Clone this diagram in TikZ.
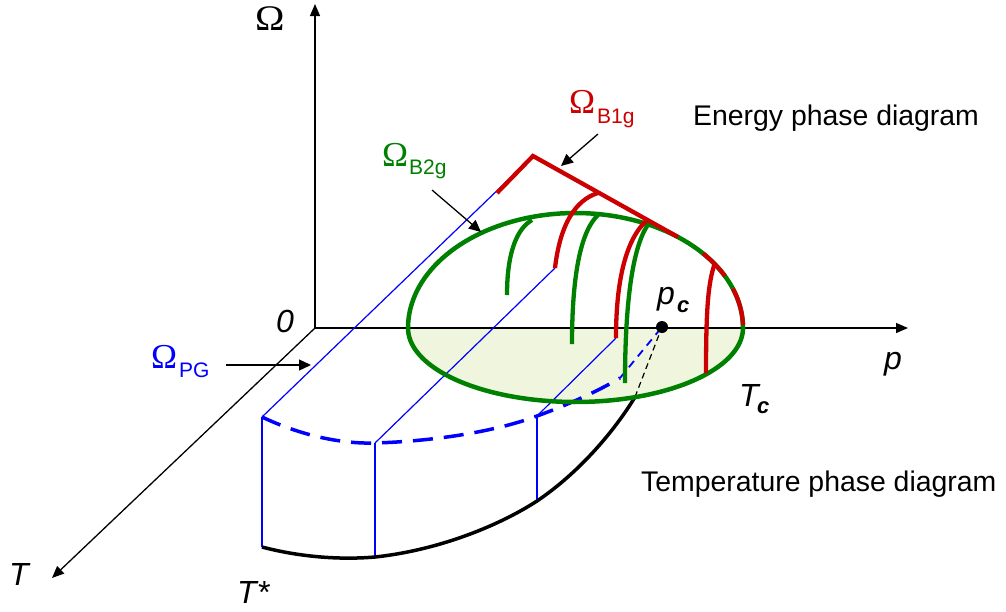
\documentclass[tikz,border=0pt]{standalone}
\usepackage{fontspec}
\setmainfont{Liberation Sans}
\newfontfamily\omegafont{Liberation Serif}
\usepackage{graphicx}
\usetikzlibrary{arrows.meta}
\definecolor{myred}{RGB}{204,0,0}
\definecolor{mygreen}{RGB}{0,128,0}
\definecolor{myblue}{RGB}{0,0,255}
\definecolor{myfill}{RGB}{240,246,222}
\begin{document}
\begin{tikzpicture}[x=1pt,y=-1pt,
  axis/.style={line width=1.3pt,-{Triangle[length=12pt,width=10pt]}},
  lblarrow/.style={line width=1.3pt,-{Triangle[length=12pt,width=11pt]}},
  thinblue/.style={myblue,line width=1.2pt},
  thickred/.style={myred,line width=4.3pt},
  thickgreen/.style={mygreen,line width=4.3pt},
  lbl/.style={inner sep=0pt,anchor=base west},
  ital/.style={lbl,font=\fontsize{32}{32}\selectfont\itshape},
  sub/.style={lbl,font=\fontsize{21}{21}\selectfont},
  omg/.style={lbl,font=\omegafont\fontsize{35}{35}\selectfont},
  ]
\useasboundingbox (0,0) rectangle (1006,611);

% lower (temperature) half of the dome, filled
\fill[myfill] plot[domain=180:360,samples=80] ({575.5+167.5*cos(\x)},{328-74*sin(\x)}) -- cycle;

% axes
\coordinate (O) at (315,328);
\coordinate (Otip) at (315,4);
\coordinate (ptip) at (908,328);
\coordinate (Ttip) at (52,578);
\draw[axis] (O) -- (Otip);
\draw[axis] (O) -- (ptip);
\draw[axis] (O) -- (Ttip);

% key points
\coordinate (A1) at (262,417);
\coordinate (A2) at (375,443);
\coordinate (A3) at (537,416);
\coordinate (D1) at (262,547);
\coordinate (D2) at (375,557);
\coordinate (D3) at (537,501);
\coordinate (peak) at (533,156);
\coordinate (R0) at (497,193);
\coordinate (roofend) at (678,237);
\coordinate (B2) at (555,268);
\coordinate (B3) at (616,338);
\coordinate (E) at (635,397);
\coordinate (F) at (620,378);
\coordinate (pcc) at (662,327);

% thin blue lines
\draw[thinblue] (A1) -- (peak);
\draw[thinblue] (A2) -- (B2);
\draw[thinblue] (A3) -- (B3);
\draw[thinblue] (A1) -- (D1);
\draw[thinblue] (A2) -- (D2);
\draw[thinblue] (A3) -- (D3);

% dashed connections to p_c
\draw[black,line width=1.2pt,dash pattern=on 6pt off 4pt] (E) -- (pcc);
\draw[myblue,line width=1.8pt,dash pattern=on 8pt off 6pt] (F) -- (pcc);

% thick blue dashed arc
\draw[myblue,line width=3.5pt,dash pattern=on 20pt off 11pt]
  (A1) .. controls (300,435) and (340,444) .. (A2)
       .. controls (440,441) and (500,430) .. (A3)
       .. controls (570,404) and (600,390) .. (F);

% black T* curve
\draw[black,line width=3.5pt]
  (D1) .. controls (300,557) and (340,560) .. (D2)
       .. controls (440,550) and (500,525) .. (D3)
       .. controls (580,472) and (615,430) .. (E);

% green dome outline
\draw[mygreen,line width=4.5pt]
  plot[domain=0:360,samples=160] ({575.5+167.5*cos(\x)},{328-(\x<180?115:74)*sin(\x)}) -- cycle;

% green arcs
\draw[thickgreen] (507,295) .. controls (507,250) and (518,228) .. (532,220);
\draw[thickgreen] (572,344) .. controls (572,270) and (582,230) .. (598,215);
\draw[thickgreen] (625,383) .. controls (625,290) and (635,240) .. (650,222);

% red curves
\draw[thickred] (R0) -- (peak) -- (roofend);
\draw[thickred] (B2) .. controls (560,225) and (575,200) .. (598,193);
\draw[thickred] (B3) .. controls (616,280) and (626,240) .. (646,221);
\draw[thickred] (706,373) .. controls (706,310) and (708,282) .. (715,263);
\draw[thickred] plot[domain=26.8:40.4,samples=20] ({575.5+167.5*cos(\x)},{328-115*sin(\x)});
\draw[thickred] plot[domain=1.5:20,samples=20] ({575.5+167.5*cos(\x)},{328-115*sin(\x)});

% p_c point
\node[circle,fill=black,inner sep=0pt,minimum size=12pt] (pc) at (pcc) {};

% labels
\node[lbl] (omegaaxis) at (255,30) {\omegafont\fontsize{36}{36}\selectfont\scalebox{1.1}[1]{Ω}};
\node[ital] (zero) at (276,332) {0};
\node[ital] (Tlab) at (9,585) {T};
\node[ital] (Tstar) at (237,603) {T*};
\node[ital] (plab) at (884,369) {p};
\node[ital] (pclab) at (657,304) {p};
\node[lbl,font=\fontsize{22}{22}\selectfont\bfseries\itshape] (pcsub) at (677,312) {c};
\node[ital] (Tclab) at (739,406) {T};
\node[lbl,font=\fontsize{22}{22}\selectfont\bfseries\itshape] (Tcsub) at (757,413) {c};

\node[lbl,font=\fontsize{28.4}{30}\selectfont] (energy) at (693,125) {Energy phase diagram};
\node[lbl,font=\fontsize{28.4}{30}\selectfont] (temper) at (641,491) {Temperature phase diagram};

% Omega labels with arrows
\node[omg,text=myred] (b1g) at (569,113) {Ω};
\node[sub,text=myred] (b1gsub) at (597,123) {B1g};
\node[omg,text=mygreen] (b2g) at (382,166) {Ω};
\node[sub,text=mygreen] (b2gsub) at (409,174) {B2g};
\node[omg,text=myblue] (pg) at (151,368) {Ω};
\node[sub,text=myblue] (pgsub) at (179,377) {PG};

\coordinate (b1gs) at (598,134);
\coordinate (b1gt) at (561,166);
\coordinate (b2gs) at (432,190);
\coordinate (b2gt) at (481,232);
\coordinate (pgs) at (226,365);
\coordinate (pgt) at (311,365);
\draw[lblarrow] (b1gs) -- (b1gt);
\draw[lblarrow] (b2gs) -- (b2gt);
\draw[lblarrow] (pgs) -- (pgt);
\end{tikzpicture}
\end{document}
